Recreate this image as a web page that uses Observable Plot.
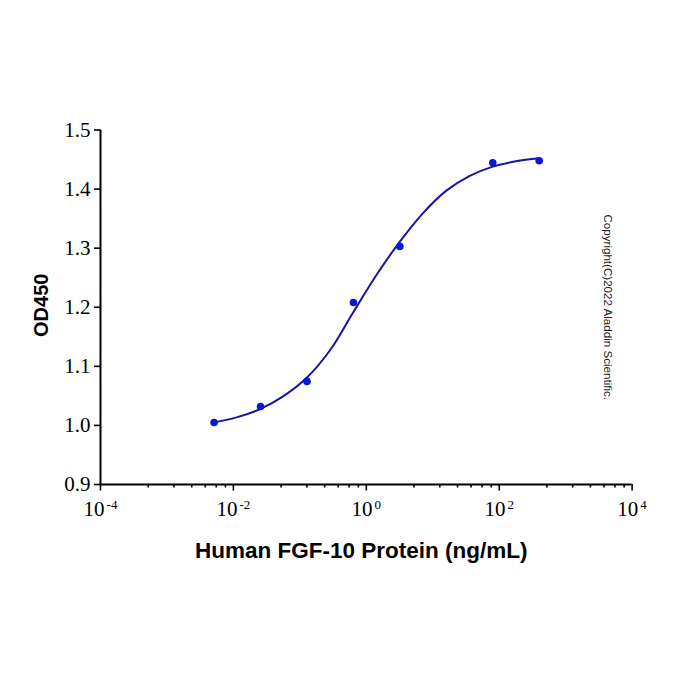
<!DOCTYPE html>
<html><head><meta charset="utf-8">
<script src="https://cdn.jsdelivr.net/npm/d3@7"></script>
<script src="https://cdn.jsdelivr.net/npm/@observablehq/plot@0.6"></script>
<style>body{margin:0;background:#fff}</style>
</head><body><div id="chart"></div>
<script>
// Measured points (5-fold dilution series)
const concentrations = [0.00512, 0.0256, 0.128, 0.64, 3.2, 80, 400];
const od450 = [1.005, 1.032, 1.0745, 1.208, 1.303, 1.4445, 1.448];
// Fitted curve
const curveConc = [0.00512, 0.0115, 0.0256, 0.0575, 0.128, 0.288, 0.64, 1.43, 3.2, 7.08, 15.85, 35.5, 80, 178, 400];
const curveOD   = [1.005, 1.014, 1.028, 1.050, 1.081, 1.128, 1.192, 1.255, 1.311, 1.359, 1.397, 1.422, 1.438, 1.447, 1.452];
// Axis ticks
const yTicks = [0.9, 1.0, 1.1, 1.2, 1.3, 1.4, 1.5];
const xMajorTicks = [1e-4, 1e-2, 1e0, 1e2, 1e4];
const xMinorMultipliers = [5.22, 12.76, 23.59, 37.73, 55.18, 75.94];
const xTitle = "Human FGF-10 Protein (ng/mL)";
const yTitle = "OD450";
const copyright = "Copyright(C)2022 Aladdin Scientific.";

const points = concentrations.map((c, i) => ({c, od: od450[i]}));
const curve = curveConc.map((c, i) => ({c, od: curveOD[i]}));
const xMinorTicks = xMajorTicks.slice(0, -1).flatMap(m => xMinorMultipliers.map(k => m * k));

const serif = "'Liberation Serif', 'Times New Roman', Times, serif";
const sans = "'Liberation Sans', Arial, sans-serif";

const svg = Plot.plot({
  width: 700,
  height: 700,
  marginLeft: 100,
  marginRight: 68.4,
  marginTop: 129.5,
  marginBottom: 216,
  style: {background: "#fff", color: "#000"},
  x: {type: "log", domain: [1e-4, 1e4]},
  y: {domain: [0.9, 1.5]},
  marks: [
    Plot.axisY({ticks: yTicks, tickSize: 6, tickPadding: 4, tickFormat: d3.format(".1f"),
      fontSize: 21, strokeWidth: 1.6, label: null}),
    Plot.axisX({ticks: xMinorTicks, tickSize: 3.5, tickFormat: () => "", strokeWidth: 1.6, label: null}),
    Plot.axisX({ticks: xMajorTicks, tickSize: 6.5, tickPadding: 10, tickFormat: d => "10^" + Math.round(Math.log10(d)),
      fontSize: 21, strokeWidth: 1.6, label: null}),
    Plot.ruleY([0.9], {stroke: "#000", strokeWidth: 2}),
    Plot.ruleX([1e-4], {stroke: "#000", strokeWidth: 2}),
    Plot.line(curve, {x: "c", y: "od", curve: "catmull-rom", stroke: "#1515a0", strokeWidth: 2}),
    Plot.dot(points, {x: "c", y: "od", r: 3.8, fill: "#0a18d8", stroke: "none"}),
    Plot.text([xTitle], {frameAnchor: "bottom", dy: 73, dx: -5, text: d => d, fontSize: 22.5, fontWeight: "bold", fontFamily: sans, fill: "#000"}),
    Plot.text([yTitle], {frameAnchor: "left", dx: -59, dy: -2, rotate: -90, textAnchor: "middle", text: d => d, fontSize: 20, fontWeight: "bold", fontFamily: sans, fill: "#000"}),
    Plot.text([copyright], {frameAnchor: "right", dx: -24.6, rotate: 90, textAnchor: "middle", text: d => d, fontSize: 11.6, fontFamily: sans, fill: "#222"})
  ]
});

// Serif tick labels and superscript exponents
svg.querySelectorAll('g[aria-label$="tick label"]').forEach(g => {
  g.setAttribute("font-family", serif);
  g.style.fontFamily = serif;
});
svg.querySelectorAll('g[aria-label$="tick label"] text').forEach(t => {
  t.setAttribute("font-family", serif);
  t.style.fontFamily = serif;
  const m = /^10\^(-?\d+)$/.exec(t.textContent);
  if (m) {
    t.textContent = "10";
    const ts = document.createElementNS("http://www.w3.org/2000/svg", "tspan");
    ts.setAttribute("font-size", "13");
    ts.setAttribute("dy", "-0.55em");
    ts.setAttribute("dx", "2");
    ts.textContent = m[1];
    t.appendChild(ts);
  }
});

document.getElementById("chart").appendChild(svg);
</script>
</body></html>
